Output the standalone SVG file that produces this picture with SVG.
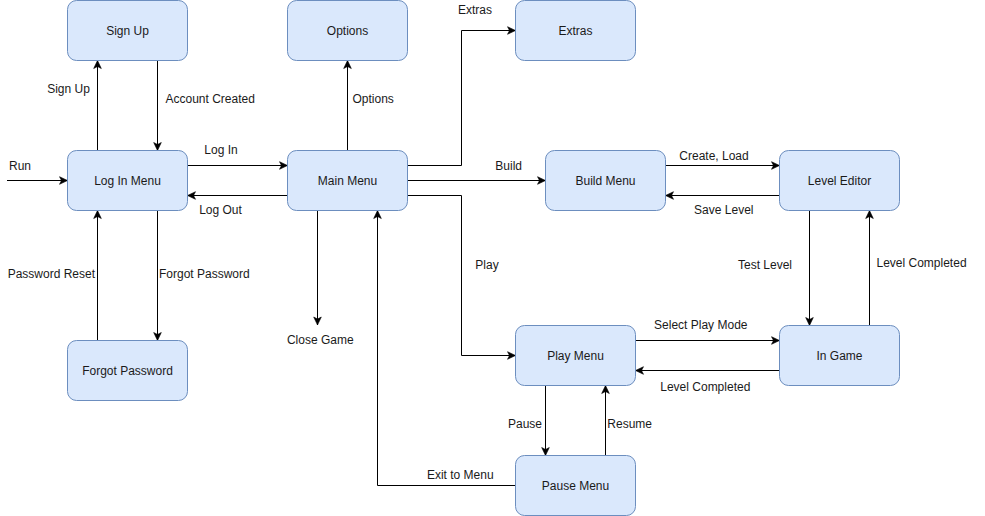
<svg xmlns="http://www.w3.org/2000/svg" width="985" height="516" viewBox="0 0 985 516">
<style>
  .node rect { fill: #dae8fc; stroke: #6c8ebf; stroke-width: 1; }
  text { font-family: "Liberation Sans", Arial, Helvetica, sans-serif; font-size: 12px; fill: #1a1a1a; }
  .node text { text-anchor: middle; }
  .edge { fill: none; stroke: #000; stroke-width: 1; marker-end: url(#arrow); }
  .lbl-m { text-anchor: middle; }
  .lbl-e { text-anchor: end; }
</style>
<defs>
  <marker id="arrow" markerUnits="userSpaceOnUse" markerWidth="10" markerHeight="10" viewBox="0 0 10 10" refX="9" refY="5" orient="auto">
    <path d="M1,1.2 L9,5 L1,8.8 L3,5 Z" fill="#000" stroke="#000" stroke-width="0.6"/>
  </marker>
</defs>
<rect width="985" height="516" fill="#fff"/>

<g id="connectors">
  <path class="edge" d="M7,180.5 H67.5"/>
  <path class="edge" d="M97.5,150.5 V60.5"/>
  <path class="edge" d="M157.5,60.5 V150.5"/>
  <path class="edge" d="M187.5,165.5 H287.5"/>
  <path class="edge" d="M287.5,195.5 H187.5"/>
  <path class="edge" d="M97.5,340.5 V210.5"/>
  <path class="edge" d="M157.5,210.5 V340.5"/>
  <path class="edge" d="M347.5,150.5 V60.5"/>
  <path class="edge" d="M407.5,165.5 H461.5 V30.5 H515.5"/>
  <path class="edge" d="M407.5,180.5 H545.5"/>
  <path class="edge" d="M407.5,195.5 H461.5 V355.5 H515.5"/>
  <path class="edge" d="M317.5,210.5 V325"/>
  <path class="edge" d="M515.5,485.5 H377.5 V210.5"/>
  <path class="edge" d="M665.5,165.5 H779.5"/>
  <path class="edge" d="M779.5,195.5 H665.5"/>
  <path class="edge" d="M809.5,210.5 V325.5"/>
  <path class="edge" d="M869.5,325.5 V210.5"/>
  <path class="edge" d="M635.5,340.5 H779.5"/>
  <path class="edge" d="M779.5,370.5 H635.5"/>
  <path class="edge" d="M545.5,385.5 V455.5"/>
  <path class="edge" d="M605.5,455.5 V385.5"/>

  <text x="9" y="170">Run</text>
  <text class="lbl-m" x="68.5" y="93">Sign Up</text>
  <text x="165.5" y="103">Account Created</text>
  <text class="lbl-m" x="221" y="154">Log In</text>
  <text class="lbl-m" x="220.5" y="214">Log Out</text>
  <text class="lbl-e" x="95" y="278">Password Reset</text>
  <text x="159" y="278">Forgot Password</text>
  <text x="352.5" y="103">Options</text>
  <text class="lbl-m" x="475" y="14">Extras</text>
  <text class="lbl-m" x="508.7" y="170">Build</text>
  <text x="475.3" y="268.5">Play</text>
  <text class="lbl-m" x="320.3" y="343.5">Close Game</text>
  <text class="lbl-m" x="460.3" y="478.5">Exit to Menu</text>
  <text class="lbl-m" x="714" y="160">Create, Load</text>
  <text class="lbl-m" x="723.8" y="214">Save Level</text>
  <text class="lbl-m" x="765" y="269">Test Level</text>
  <text x="876.5" y="267">Level Completed</text>
  <text class="lbl-m" x="700.8" y="328.5">Select Play Mode</text>
  <text class="lbl-m" x="705.3" y="391">Level Completed</text>
  <text class="lbl-m" x="525" y="427.5">Pause</text>
  <text x="607.3" y="427.5">Resume</text>
</g>

<g id="sign-up" class="node"><rect x="67.5" y="0.5" width="120" height="60" rx="9"/><text x="127.5" y="35">Sign Up</text></g>
<g id="log-in-menu" class="node"><rect x="67.5" y="150.5" width="120" height="60" rx="9"/><text x="127.5" y="185">Log In Menu</text></g>
<g id="forgot-password" class="node"><rect x="67.5" y="340.5" width="120" height="60" rx="9"/><text x="127.5" y="375">Forgot Password</text></g>
<g id="options" class="node"><rect x="287.5" y="0.5" width="120" height="60" rx="9"/><text x="347.5" y="35">Options</text></g>
<g id="main-menu" class="node"><rect x="287.5" y="150.5" width="120" height="60" rx="9"/><text x="347.5" y="185">Main Menu</text></g>
<g id="extras" class="node"><rect x="515.5" y="0.5" width="120" height="60" rx="9"/><text x="575.5" y="35">Extras</text></g>
<g id="build-menu" class="node"><rect x="545.5" y="150.5" width="120" height="60" rx="9"/><text x="605.5" y="185">Build Menu</text></g>
<g id="level-editor" class="node"><rect x="779.5" y="150.5" width="120" height="60" rx="9"/><text x="839.5" y="185">Level Editor</text></g>
<g id="play-menu" class="node"><rect x="515.5" y="325.5" width="120" height="60" rx="9"/><text x="575.5" y="360">Play Menu</text></g>
<g id="in-game" class="node"><rect x="779.5" y="325.5" width="120" height="60" rx="9"/><text x="839.5" y="360">In Game</text></g>
<g id="pause-menu" class="node"><rect x="515.5" y="455.5" width="120" height="60" rx="9"/><text x="575.5" y="490">Pause Menu</text></g>
</svg>
